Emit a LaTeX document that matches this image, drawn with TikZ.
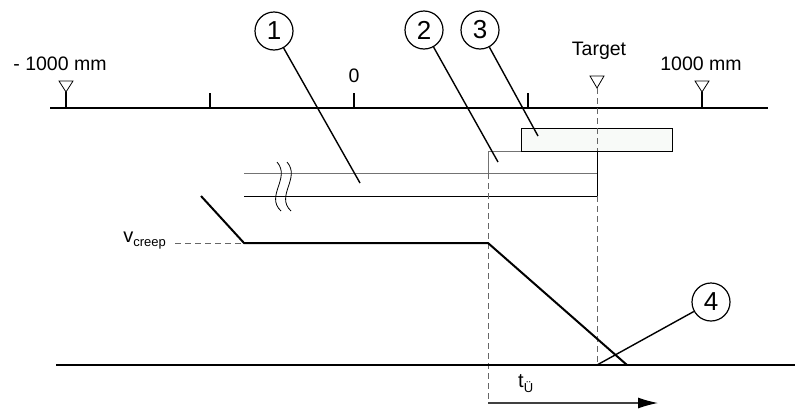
\documentclass[tikz,border=0pt]{standalone}
\usepackage{fontspec}
\setmainfont{Liberation Sans}
\usetikzlibrary{arrows.meta}
\begin{document}
\begin{tikzpicture}[x=1pt,y=-1pt,
  lbl/.style={font=\fontsize{19.5}{21}\selectfont, inner sep=0pt},
  num/.style={circle,draw,line width=1.2pt,minimum size=38pt,inner sep=0pt,font=\fontsize{26}{28}\selectfont},
  leader/.style={line width=1.4pt},
  heavy/.style={line width=2pt},
  dashline/.style={dash pattern=on 6pt off 4pt, line width=1pt, black!60},
  marker/.style={draw,line width=0.8pt},
  boxline/.style={line width=1pt},
  grayline/.style={line width=1pt, black!55},
  breakline/.style={line width=0.8pt}]
\useasboundingbox (0,0) rectangle (795,410);

% axis
\coordinate (axL) at (50,107.5);
\coordinate (axR) at (768,107.5);
\draw[heavy] (axL) -- (axR);
% markers
\draw[marker] (59,81) -- (73,81) -- (66,92) -- cycle;
\draw[line width=1.2pt] (66,92) -- (66,107.5);
\draw[marker] (590,76) -- (604,76) -- (597,88) -- cycle;
\draw[marker] (695,81) -- (709,81) -- (702,92) -- cycle;
\draw[line width=1.2pt] (702,92) -- (702,107.5);
% ticks
\draw[line width=1.2pt] (210,93) -- (210,107.5);
\draw[line width=1.2pt] (354,93) -- (354,107.5);
\draw[line width=1.2pt] (528,93) -- (528,107.5);
% axis labels
\node[lbl, anchor=base] (lm) at (60,70) {- 1000 mm};
\node[lbl, anchor=base] (l0) at (354,82) {0};
\node[lbl, anchor=base] (lt) at (599,55) {Target};
\node[lbl, anchor=base] (lp) at (701,70) {1000 mm};

% box 3 (filled)
\draw[boxline, fill={rgb,255:red,248;green,250;blue,248}] (521,128) rectangle (672,151);
% box 2
\draw[grayline] (488,173) -- (488,151) -- (521,151);
\draw[boxline] (521,151) -- (597,151);
% box 1
\draw[grayline] (244,173) -- (597,173);
\draw[boxline] (244,196) -- (597,196);
\draw[boxline] (597,151) -- (597,196);

% break symbol
\draw[breakline] (277,162) .. controls (291,178) and (265,196) .. (281,211);
\draw[breakline] (287,162) .. controls (301,178) and (275,196) .. (291,211);

% dashed guides
\draw[dashline] (597,88) -- (597,151);
\draw[dashline] (597,196) -- (597,365);
\draw[dashline] (488,173) -- (488,401);
\draw[dashline] (175,243) -- (244,243);

% speed profile
\coordinate (p0) at (201,196);
\coordinate (p1) at (244,243);
\coordinate (p2) at (488,243);
\coordinate (p3) at (627,365);
\draw[heavy, line join=miter] (p0) -- (p1) -- (p2) -- (p3);

% baseline
\draw[heavy] (56,365) -- (795,365);

% v_creep label
\node[inner sep=0pt, anchor=base east] (vc) at (166,242) {\fontsize{20}{21}\selectfont v\raisebox{-0.45ex}{\fontsize{13}{13}\selectfont creep}};

% time arrow
\coordinate (ta) at (488,403);
\coordinate (tb) at (658,403);
\draw[line width=1.2pt, black!75, -{Latex[length=20pt,width=11pt,black]}] (ta) -- (tb);
\node[inner sep=0pt, anchor=base west] (tu) at (518,387) {\fontsize{20}{21}\selectfont t\raisebox{-0.5ex}{\fontsize{13}{13}\selectfont Ü}};

% numbered circles and leaders
\node[num] (c1) at (274,31) {1};
\node[num] (c2) at (424,30) {2};
\node[num] (c3) at (480,30) {3};
\node[num] (c4) at (711,302) {4};
\coordinate (e1) at (360,183);
\coordinate (e2) at (498,162);
\coordinate (e3) at (538,136);
\coordinate (e4) at (597,365);
\draw[leader] (c1) -- (e1);
\draw[leader] (c2) -- (e2);
\draw[leader] (c3) -- (e3);
\draw[leader] (c4) -- (e4);
\end{tikzpicture}
\end{document}
